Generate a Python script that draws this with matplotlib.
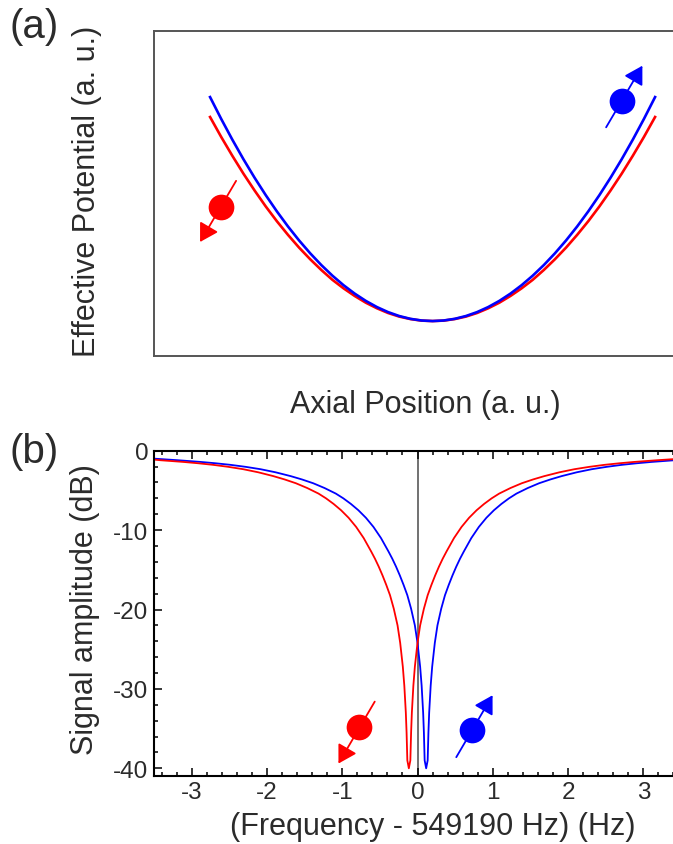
#!/usr/bin/env python3
"""Spin-dependent axial potential (a) and dip signal (b)."""
import matplotlib; matplotlib.use('Agg')
import matplotlib.pyplot as plt
from matplotlib.ticker import MultipleLocator

plt.rcParams['font.family'] = ['Liberation Sans', 'DejaVu Sans']
plt.rcParams['axes.unicode_minus'] = False

W, H = 673, 845
RED, BLUE = '#ff0000', '#0000ff'
TXT = '#2b2b2b'

# panel (a), a.u.
pos_half = [-1.0, -0.95, -0.9, -0.85, -0.8, -0.75, -0.7, -0.65, -0.6, -0.55, -0.5,
            -0.45, -0.4, -0.35, -0.3, -0.25, -0.2, -0.15, -0.1, -0.05, 0.0]
pot_blue_half = [1.0, 0.9025, 0.81, 0.7225, 0.64, 0.5625, 0.49, 0.4225, 0.36, 0.3025, 0.25,
                 0.2025, 0.16, 0.1225, 0.09, 0.0625, 0.04, 0.0225, 0.01, 0.0025, 0.0]
pot_red_half = [0.911, 0.822, 0.738, 0.658, 0.583, 0.512, 0.446, 0.385, 0.328, 0.276, 0.228,
                0.184, 0.146, 0.112, 0.082, 0.057, 0.036, 0.020, 0.009, 0.002, 0.0]

# panel (b)
blue_freq = [-3.5, -3.185, -2.885, -2.685, -2.485, -2.285, -2.085, -1.885, -1.685, -1.535,
             -1.385, -1.235, -1.085, -0.985, -0.885, -0.785, -0.685, -0.585, -0.485, -0.385,
             -0.335, -0.285, -0.235, -0.185, -0.135, -0.085, -0.035, 0.0, 0.035,
             0.055, 0.075, 0.085, 0.095, 0.115, 0.135, 0.145, 0.155, 0.175, 0.195,
             0.23, 0.265, 0.315, 0.365, 0.415, 0.465, 0.515, 0.565, 0.615, 0.715, 0.815, 0.915,
             1.015, 1.115, 1.215, 1.315, 1.465, 1.615, 1.765, 1.915, 2.115, 2.315, 2.515,
             2.715, 2.915, 3.115, 3.415, 3.5]
blue_db = [-1.0, -1.2, -1.41, -1.58, -1.78, -2.03, -2.33, -2.72, -3.2, -3.62,
           -4.1, -4.7, -5.4, -6.0, -6.7, -7.5, -8.45, -9.6, -11.0, -12.7,
           -13.6, -14.6, -15.7, -16.9, -18.2, -19.9, -22.0, -24.2, -27.2,
           -29.6, -33.0, -35.5, -39.0, -40.0, -39.0, -35.5, -33.0, -29.6, -27.2,
           -24.2, -22.0, -19.9, -18.2, -16.9, -15.7, -14.6, -13.6, -12.7, -11.0, -9.6, -8.45,
           -7.5, -6.7, -6.0, -5.4, -4.7, -4.1, -3.62, -3.2, -2.72, -2.33, -2.03,
           -1.78, -1.58, -1.41, -1.2, -1.12]
red_freq = [-3.5, -3.415, -3.115, -2.915, -2.715, -2.515, -2.315, -2.115, -1.915, -1.765,
            -1.615, -1.465, -1.315, -1.215, -1.115, -1.015, -0.915, -0.815, -0.715, -0.615,
            -0.565, -0.515, -0.465, -0.415, -0.365, -0.315, -0.265, -0.23, -0.195,
            -0.175, -0.155, -0.145, -0.135, -0.115, -0.095, -0.085, -0.075, -0.055, -0.035,
            0.0, 0.035, 0.085, 0.135, 0.185, 0.235, 0.285, 0.335, 0.385, 0.485, 0.585, 0.685,
            0.785, 0.885, 0.985, 1.085, 1.235, 1.385, 1.535, 1.685, 1.885, 2.085, 2.285,
            2.485, 2.685, 2.885, 3.185, 3.5]
red_db = [-1.12, -1.2, -1.41, -1.58, -1.78, -2.03, -2.33, -2.72, -3.2, -3.62,
          -4.1, -4.7, -5.4, -6.0, -6.7, -7.5, -8.45, -9.6, -11.0, -12.7,
          -13.6, -14.6, -15.7, -16.9, -18.2, -19.9, -22.0, -24.2, -27.2,
          -29.6, -33.0, -35.5, -39.0, -40.0, -39.0, -35.5, -33.0, -29.6, -27.2,
          -24.2, -22.0, -19.9, -18.2, -16.9, -15.7, -14.6, -13.6, -12.7, -11.0, -9.6, -8.45,
          -7.5, -6.7, -6.0, -5.4, -4.7, -4.1, -3.62, -3.2, -2.72, -2.33, -2.03,
          -1.78, -1.58, -1.41, -1.2, -1.0]
x_ticks = [-3, -2, -1, 0, 1, 2, 3]
y_ticks = [0, -10, -20, -30, -40]


def px_axes(left, top, right, bottom):
    return fig.add_axes([left / W, 1 - bottom / H, (right - left) / W, (bottom - top) / H])


def spin(ax, centre, tail, tip, col):
    ax.annotate('', xy=tip, xytext=tail, annotation_clip=False,
                arrowprops=dict(arrowstyle='-|>,head_length=0.68,head_width=0.4', color=col,
                                lw=1.3, shrinkA=0, shrinkB=0, mutation_scale=16))
    ax.plot(*centre, 'o', ms=18.5, color=col, mew=0, zorder=5)


fig = plt.figure(figsize=(W / 100, H / 100), dpi=100)

# (a)
ax = px_axes(154, 32, 690, 357)
ax.plot(pos_half + [-p for p in pos_half[-2::-1]], pot_red_half + pot_red_half[-2::-1],
        color=RED, lw=1.9)
ax.plot(pos_half + [-p for p in pos_half[-2::-1]], pot_blue_half + pot_blue_half[-2::-1],
        color=BLUE, lw=1.9)
ax.set_xlim(-1.252, 1.157)
ax.set_ylim(-0.156, 1.295)
ax.set_xticks([]); ax.set_yticks([])
for s in ax.spines.values():
    s.set_color('#555555'); s.set_linewidth(1.4)
spin(ax, (-0.952, 0.510), (-0.883, 0.626), (-1.045, 0.353), RED)
spin(ax, (0.850, 0.983), (0.780, 0.865), (0.943, 1.140), BLUE)

# (b)
ax = px_axes(154, 451.7, 681, 776.7)
ax.axvline(0, color='#666666', lw=1.3, zorder=1)
ax.plot(blue_freq, blue_db, color=BLUE, lw=1.3)
ax.plot(red_freq, red_db, color=RED, lw=1.3)
ax.set_xlim(-3.5, 3.5)
ax.set_ylim(-40.93, 0)
ax.set_xticks(x_ticks); ax.set_yticks(y_ticks)
ax.xaxis.set_minor_locator(MultipleLocator(0.2))
ax.yaxis.set_minor_locator(MultipleLocator(2))
ax.tick_params(which='major', direction='in', length=6, width=1.1, top=True, right=True,
               labelsize=17.5, labelcolor=TXT, pad=4)
ax.tick_params(which='minor', direction='in', length=3, width=1.1, top=True, right=True)
for s in ax.spines.values():
    s.set_linewidth(1.5)
spin(ax, (-0.775, -34.85), (-0.568, -31.6), (-1.05, -39.4), RED)
spin(ax, (0.722, -35.2), (0.515, -38.6), (0.997, -30.8), BLUE)

LABEL = 22
for txt, x, y, rot in [('Effective Potential (a. u.)', 87, 191, 90),
                       ('Axial Position (a. u.)', 425, 405, 0),
                       ('Signal amplitude (dB)', 85, 610, 90),
                       ('(Frequency - 549190 Hz) (Hz)', 433, 827, 0)]:
    fig.text(x / W, 1 - y / H, txt, fontsize=LABEL, color=TXT, rotation=rot, ha='center', va='center')
fig.text(10 / W, 1 - 27 / H, '(a)', fontsize=29, color=TXT, ha='left', va='center')
fig.text(10 / W, 1 - 452 / H, '(b)', fontsize=29, color=TXT, ha='left', va='center')

plt.savefig('out.png', dpi=100, facecolor='white')
plt.close()
